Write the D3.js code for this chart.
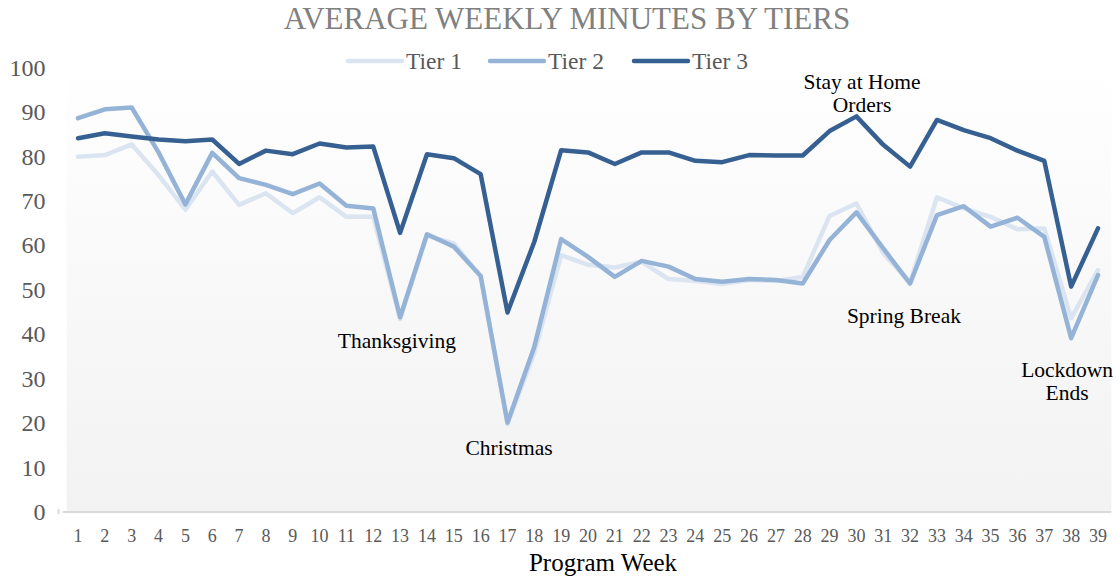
<!DOCTYPE html>
<html>
<head>
<meta charset="utf-8">
<script src="https://cdn.jsdelivr.net/npm/d3@7"></script>
<style>
  body { margin: 0; background: #fff; }
  svg text { font-family: "Liberation Serif", "Times New Roman", serif; }
</style>
</head>
<body>
<div id="chart"></div>
<script>
// data
var weeks = d3.range(1, 40);
var tier1 = [79.9, 80.3, 82.7, 75.8, 68.0, 76.6, 69.1, 71.7, 67.2, 70.8, 66.4, 66.4, 43.4, 62.2, 60.4, 53.0, 19.8, 35.8, 57.8, 55.6,
             55.0, 56.3, 52.4, 52.0, 51.3, 52.2, 52.0, 52.9, 66.6, 69.4, 58.2, 51.6, 70.8, 68.3, 66.4, 63.6, 63.8, 43.6, 54.4];
var tier2 = [88.6, 90.6, 91.0, 80.9, 69.2, 80.8, 75.1, 73.6, 71.5, 73.9, 68.9, 68.3, 43.8, 62.5, 59.7, 53.1, 20.1, 37.2, 61.4, 57.4,
             52.9, 56.5, 55.2, 52.4, 51.8, 52.4, 52.2, 51.4, 61.2, 67.4, 59.3, 51.4, 66.8, 68.8, 64.2, 66.2, 61.9, 39.1, 53.3];
var tier3 = [84.1, 85.2, 84.5, 83.8, 83.4, 83.8, 78.3, 81.3, 80.5, 82.9, 82.0, 82.2, 62.8, 80.5, 79.6, 76.0, 44.9, 60.8, 81.4, 80.9,
             78.3, 80.9, 80.9, 79.0, 78.7, 80.3, 80.2, 80.2, 85.7, 89.0, 82.6, 77.7, 88.2, 85.9, 84.1, 81.3, 79.0, 50.7, 63.8];
var seriesNames = ["Tier 1", "Tier 2", "Tier 3"];
var seriesColors = ["#dbe5f1", "#95b3d7", "#366092"];
var yTicks = [0, 10, 20, 30, 40, 50, 60, 70, 80, 90, 100];
var notes = [
  { week: 12.88, value: 36.9, lines: ["Thanksgiving"] },
  { week: 17.06, value: 12.8, lines: ["Christmas"] },
  { week: 30.21, value: 95.2, lines: ["Stay at Home", "Orders"] },
  { week: 31.77, value: 42.5, lines: ["Spring Break"] },
  { week: 37.85, value: 30.4, lines: ["Lockdown", "Ends"] }
];

var svgWidth = 1117, svgHeight = 577;
var margin = { top: 67.5, right: 5.6, bottom: 65, left: 64.6 };
var width = svgWidth - margin.left - margin.right;
var height = svgHeight - margin.top - margin.bottom;

var svg = d3.select("#chart").append("svg")
  .attr("width", svgWidth)
  .attr("height", svgHeight);

var defs = svg.append("defs");
var grad = defs.append("linearGradient")
  .attr("id", "bg")
  .attr("x1", 0).attr("y1", 0).attr("x2", 0).attr("y2", 1);
grad.append("stop").attr("offset", "0%").attr("stop-color", "#ffffff");
grad.append("stop").attr("offset", "100%").attr("stop-color", "#f2f2f2");

var chartGroup = svg.append("g")
  .attr("transform", `translate(${margin.left}, ${margin.top})`);

var xScale = d3.scaleBand()
  .domain(weeks)
  .range([0, width])
  .padding(0);

var yScale = d3.scaleLinear()
  .domain([0, 100])
  .range([height, 0]);

// position helper for the notes (fractional weeks)
var xPos = function(w) { return xScale(1) + xScale.bandwidth() / 2 + (w - 1) * xScale.step(); };

// plot background
chartGroup.append("rect")
  .attr("x", 2)
  .attr("y", -8)
  .attr("width", width - 2)
  .attr("height", height + 8)
  .attr("fill", "url(#bg)");

// y axis, labels only
var leftAxis = d3.axisLeft(yScale).tickValues(yTicks).tickSize(0).tickPadding(19);
chartGroup.append("g")
  .call(leftAxis)
  .call(g => g.select(".domain").remove())
  .selectAll("text")
  .attr("font-size", "24px")
  .attr("fill", "#595959")
  .style("font-family", "'Liberation Serif', serif");

// x axis
var bottomAxis = d3.axisBottom(xScale).tickSize(0).tickPadding(17);
var xAxisG = chartGroup.append("g")
  .attr("transform", `translate(0, ${height})`)
  .call(bottomAxis);
xAxisG.select(".domain")
  .attr("d", `M-2,0H${width}`)
  .attr("stroke", "#d9d9d9")
  .attr("stroke-width", 2);
xAxisG.selectAll("text")
  .attr("font-size", "18px")
  .attr("fill", "#595959")
  .style("font-family", "'Liberation Serif', serif");
chartGroup.append("line")
  .attr("x1", -6).attr("x2", -6)
  .attr("y1", height - 3).attr("y2", height + 2)
  .attr("stroke", "#d9d9d9")
  .attr("stroke-width", 2);

// lines
var line = d3.line()
  .x((d, i) => xScale(weeks[i]) + xScale.bandwidth() / 2)
  .y(d => yScale(d));

[tier1, tier2, tier3].forEach(function(vals, k) {
  chartGroup.append("path")
    .datum(vals)
    .attr("fill", "none")
    .attr("stroke", seriesColors[k])
    .attr("stroke-width", 4.5)
    .attr("stroke-linejoin", "round")
    .attr("stroke-linecap", "round")
    .attr("d", line);
});

// annotations
notes.forEach(function(n) {
  var t = chartGroup.append("text")
    .attr("text-anchor", "middle")
    .attr("font-size", "21.5px")
    .attr("fill", "#000");
  n.lines.forEach(function(s, i) {
    t.append("tspan")
      .attr("x", xPos(n.week))
      .attr("y", yScale(n.value) + i * 23)
      .text(s);
  });
});

// title
svg.append("text")
  .attr("x", 567)
  .attr("y", 29)
  .attr("text-anchor", "middle")
  .attr("font-size", "31px")
  .attr("fill", "#808080")
  .text("AVERAGE WEEKLY MINUTES BY TIERS");

// legend
var legendX = [348, 490, 634];
var legend = svg.append("g");
seriesNames.forEach(function(name, k) {
  legend.append("line")
    .attr("x1", legendX[k]).attr("x2", legendX[k] + 54)
    .attr("y1", 61).attr("y2", 61)
    .attr("stroke", seriesColors[k])
    .attr("stroke-width", 4.5)
    .attr("stroke-linecap", "round");
  legend.append("text")
    .attr("x", legendX[k] + 58)
    .attr("y", 69)
    .attr("font-size", "23.5px")
    .attr("fill", "#595959")
    .text(name);
});

// x axis title
svg.append("text")
  .attr("x", 603)
  .attr("y", 571)
  .attr("text-anchor", "middle")
  .attr("font-size", "25px")
  .attr("fill", "#000")
  .text("Program Week");
</script>
</body>
</html>
